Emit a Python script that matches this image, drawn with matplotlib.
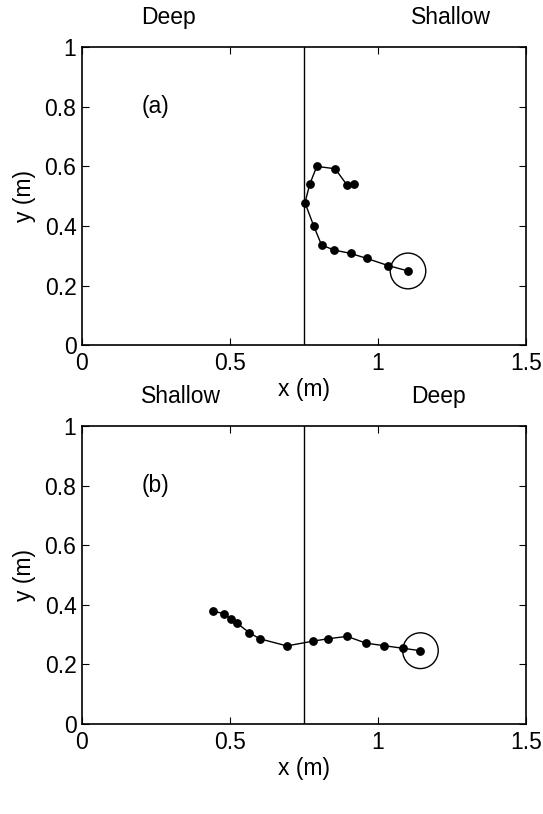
import matplotlib.pyplot as plt
from matplotlib.patches import Circle

plt.rcParams['font.family'] = ['Liberation Sans', 'DejaVu Sans']

# trajectory (a): deep on the left, shallow on the right
xa = [1.101, 1.034, 0.962, 0.907, 0.852, 0.809, 0.783, 0.753, 0.769, 0.793, 0.855, 0.896, 0.920]
ya = [0.249, 0.267, 0.291, 0.308, 0.319, 0.336, 0.399, 0.478, 0.540, 0.600, 0.592, 0.536, 0.541]

# trajectory (b): shallow on the left, deep on the right
xb = [1.143, 1.084, 1.019, 0.960, 0.895, 0.831, 0.780, 0.692, 0.600, 0.564, 0.524, 0.504, 0.479, 0.443]
yb = [0.246, 0.254, 0.263, 0.271, 0.294, 0.286, 0.278, 0.262, 0.286, 0.307, 0.338, 0.351, 0.370, 0.379]

step_x = 0.75
circle_r = 0.06
panels = [
    ('(a)', xa, ya, 'Deep', 'Shallow'),
    ('(b)', xb, yb, 'Shallow', 'Deep'),
]
xticks = [0, 0.5, 1, 1.5]
xticklabels = ['0', '0.5', '1', '1.5']
yticks = [0, 0.2, 0.4, 0.6, 0.8, 1]
yticklabels = ['0', '0.2', '0.4', '0.6', '0.8', '1']

fs = 16.5
fig = plt.figure(figsize=(5.43, 8.14), dpi=100)
boxes = [[0.151, 0.576, 0.818, 0.366], [0.151, 0.1106, 0.818, 0.366]]

for box, (tag, x, y, left_txt, right_txt) in zip(boxes, panels):
    ax = fig.add_axes(box)
    ax.plot(x, y, '-', color='black', lw=1, marker='o', markersize=5.3)
    ax.add_patch(Circle((x[0], y[0]), circle_r, fill=False, edgecolor='black', lw=1))
    ax.axvline(step_x, color='black', lw=1)

    ax.set_xlim(0, 1.5)
    ax.set_ylim(0, 1)
    ax.set_xticks(xticks)
    ax.set_xticklabels(xticklabels)
    ax.set_yticks(yticks)
    ax.set_yticklabels(yticklabels)
    ax.tick_params(direction='in', top=True, right=True, labelsize=fs, length=5, width=0.8)
    ax.tick_params(axis='x', pad=5)
    ax.tick_params(axis='y', pad=4)
    for s in ax.spines.values():
        s.set_linewidth(1.2)

    ax.set_xlabel('x (m)', fontsize=fs, labelpad=2)
    ax.set_ylabel('y (m)', fontsize=fs, labelpad=6)

    ax.text(0.2, 0.8, tag, fontsize=fs, ha='left', va='center')
    ax.text(0.2, 1.1, left_txt, fontsize=fs, ha='left', va='center', clip_on=False)
    ax.text(1.11, 1.1, right_txt, fontsize=fs, ha='left', va='center', clip_on=False)

fig.savefig('out.png', dpi=100)
